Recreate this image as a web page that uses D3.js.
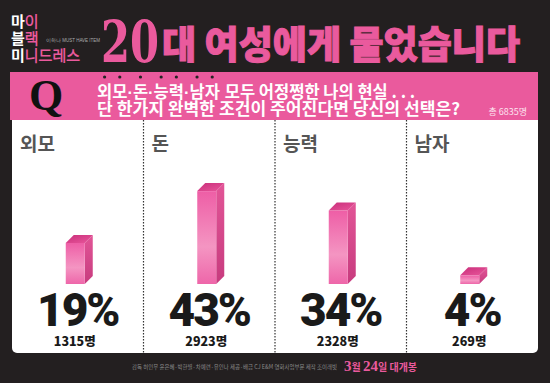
<!DOCTYPE html>
<html><head><meta charset="utf-8">
<script src="https://cdn.jsdelivr.net/npm/d3@7"></script>
<style>html,body{margin:0;padding:0;background:#231f20;}svg{display:block;}</style>
</head><body>
<svg id="c" width="550" height="383"></svg>
<script>
const categories = ["외모", "돈", "능력", "남자"];
const percents = [19, 43, 34, 4];
const counts = [1315, 2923, 2328, 269];
const totalCount = 6835;
const titleNum = "20";
const titleText = "대 여성에게 물었습니다";
const qLine1Tail = "모두 어정쩡한 나의 현실 . . .";
const qLine2 = "단 한가지 완벽한 조건이 주어진다면 당신의 선택은?";

const KR = "'Noto Sans CJK KR','Noto Sans',sans-serif";
const PINK = "#ea5a9d";
const svg = d3.select("#c");
svg.append("rect").attr("width",550).attr("height",383).attr("fill","#231f20");

const defs = svg.append("defs");
const gf = defs.append("linearGradient").attr("id","gFront").attr("x1",0).attr("y1",0).attr("x2",0).attr("y2",1);
gf.append("stop").attr("offset","0").attr("stop-color","#ee5ea6");
gf.append("stop").attr("offset","0.6").attr("stop-color","#f495c2");
gf.append("stop").attr("offset","1").attr("stop-color","#ee66a9");
const gs = defs.append("linearGradient").attr("id","gSide").attr("x1",0).attr("y1",0).attr("x2",0).attr("y2",1);
gs.append("stop").attr("offset","0").attr("stop-color","#e25597");
gs.append("stop").attr("offset","1").attr("stop-color","#c73b7e");
const gt = defs.append("linearGradient").attr("id","gTop").attr("x1",0).attr("y1",0).attr("x2",1).attr("y2",1);
gt.append("stop").attr("offset","0").attr("stop-color","#c92e7a");
gt.append("stop").attr("offset","1").attr("stop-color","#e9579c");

// ---- Logo ----
const logo = svg.append("g").attr("font-family", KR).attr("font-size", 15);
[["마","이",27],["블","랙",44],["미","니드레스",61]].forEach(r=>{
  const t = logo.append("text").attr("x",11).attr("y",r[2]);
  t.append("tspan").attr("font-weight",700).attr("fill","#fff").text(r[0]);
  t.append("tspan").attr("font-weight",300).attr("fill","none").attr("stroke",PINK).attr("stroke-width",0.8).text(r[1]);
});
svg.append("text").attr("x",46).attr("y",42).attr("font-family","'Liberation Sans',sans-serif")
  .attr("font-size",4.5).attr("fill","#aaaaaa").text("이하나 MUST HAVE ITEM");

// ---- Title ----
svg.append("text").attr("x",101).attr("y",62).attr("font-family","'DejaVu Serif','Liberation Serif',serif")
  .attr("font-weight",700).attr("font-size",58).attr("fill",PINK).attr("textLength",58).attr("lengthAdjust","spacingAndGlyphs").text(titleNum);
svg.append("text").attr("x",162).attr("y",58).attr("font-family",KR).attr("font-weight",900)
  .attr("font-size",38).attr("fill",PINK).attr("stroke",PINK).attr("stroke-width",1)
  .attr("textLength",358).attr("lengthAdjust","spacingAndGlyphs").text(titleText);

// ---- Question box ----
svg.append("rect").attr("x",10).attr("y",72).attr("width",528).attr("height",48).attr("fill",PINK);
svg.append("text").attr("x",29).attr("y",110).attr("font-family","'Liberation Serif','DejaVu Serif',serif")
  .attr("font-weight",700).attr("font-size",44).attr("fill","#111").text("Q");

// line 1: options with emphasis dots, laid out piece by piece
const QFS = 16.5;
let cx1 = 97;
function piece(str, isDot) {
  const t = svg.append("text").attr("x",cx1).attr("y",98)
    .attr("font-family", isDot ? "'Liberation Sans',sans-serif" : KR)
    .attr("font-weight",700).attr("font-size",QFS).attr("fill","#fff").text(str);
  const w = t.node().getComputedTextLength();
  return {t, w};
}
categories.forEach((c, ci)=>{
  Array.from(c).forEach(ch=>{
    const p = piece(ch, false);
    svg.append("circle").attr("cx", cx1 + p.w/2).attr("cy",77).attr("r",1.6).attr("fill","#222");
    cx1 += p.w;
  });
  if (ci < categories.length - 1) { const p = piece("·", true); cx1 += p.w; }
});
cx1 += QFS * 0.3;
piece(qLine1Tail, false);

svg.append("text").attr("x",97).attr("y",115).attr("font-family",KR).attr("font-weight",700)
  .attr("font-size",QFS).attr("fill","#fff").attr("textLength",363).attr("lengthAdjust","spacingAndGlyphs").text(qLine2);
svg.append("text").attr("x",527).attr("y",115).attr("text-anchor","end").attr("font-family",KR)
  .attr("font-size",9).attr("fill","#fde3ef").text("총 " + totalCount + "명");

// ---- White panel ----
const panelTop = 120, panelBot = 353, panelL = 12, panelR = 538;
const pp = d3.path();
pp.moveTo(panelL,panelTop); pp.lineTo(panelR,panelTop); pp.lineTo(panelR,panelBot-5);
pp.arcTo(panelR,panelBot,panelR-5,panelBot,5); pp.lineTo(panelL+5,panelBot);
pp.arcTo(panelL,panelBot,panelL,panelBot-5,5); pp.closePath();
svg.append("path").attr("d", pp.toString()).attr("fill","#ffffff");

const x = d3.scaleBand().domain(categories).range([panelL, panelR]).padding(0);
const y = d3.scaleLinear().domain([0, 50]).range([284, 176]);

// dividers
categories.slice(1).forEach(c=>{
  svg.append("line").attr("x1",x(c)).attr("x2",x(c)).attr("y1",panelTop).attr("y2",panelBot)
    .attr("stroke","#333").attr("stroke-width",1.2).attr("stroke-dasharray","1.5,1.5");
});

const cols = svg.append("g").selectAll("g").data(categories).join("g");
cols.append("text").attr("x",d=>x(d)+8).attr("y",151).attr("font-family",KR).attr("font-weight",700)
  .attr("font-size",19).attr("fill","#555").text(d=>d);

const dx = 8, dy = 8, fw = 19;
cols.each(function(d,i){
  const g = d3.select(this);
  const cx = x(d) + x.bandwidth()/2;
  const x0 = cx - 12, x1 = x0 + fw;
  const yt = y(percents[i]), yb = y(0);
  g.append("path").attr("d",`M${x1},${yt}L${x1+dx},${yt-dy}L${x1+dx},${yb-dy}L${x1},${yb}Z`).attr("fill","url(#gSide)");
  g.append("rect").attr("x",x0).attr("y",yt).attr("width",fw).attr("height",yb-yt).attr("fill","url(#gFront)");
  g.append("path").attr("d",`M${x0},${yt}L${x0+dx},${yt-dy}L${x1+dx},${yt-dy}L${x1},${yt}Z`).attr("fill","url(#gTop)");
  const pct = String(percents[i]) + "%";
  g.append("text").attr("x",cx).attr("y",326).attr("text-anchor","middle")
    .attr("font-family","Roboto,'Liberation Sans',sans-serif").attr("font-weight",900)
    .attr("font-size",46).attr("letter-spacing",-2).attr("fill","#1a1a1a").text(pct);
  g.append("text").attr("x",cx-3).attr("y",346).attr("text-anchor","middle")
    .attr("font-family",KR).attr("font-weight",900).attr("font-size",12.5).attr("fill","#1a1a1a").text(counts[i] + "명");
});

// ---- Credits ----
svg.append("text").attr("x",132).attr("y",369).attr("font-family",KR).attr("font-size",5.5).attr("fill","#8a8a8a")
  .attr("textLength",205).attr("lengthAdjust","spacingAndGlyphs")
  .text("감독 허인무  윤은혜·박한별·차예련·유인나  제공·배급 CJ E&M 영화사업부문  제작 조이래빗");
svg.append("text").attr("x",344).attr("y",371).attr("font-family","'Liberation Serif',serif").attr("font-weight",700)
  .attr("font-size",15).attr("fill",PINK)
  .call(t=>{
    t.append("tspan").text("3");
    t.append("tspan").attr("font-family",KR).attr("font-size",10).text("월 ");
    t.append("tspan").text("24");
    t.append("tspan").attr("font-family",KR).attr("font-size",10).text("일 대개봉");
  });
</script>
</body></html>
